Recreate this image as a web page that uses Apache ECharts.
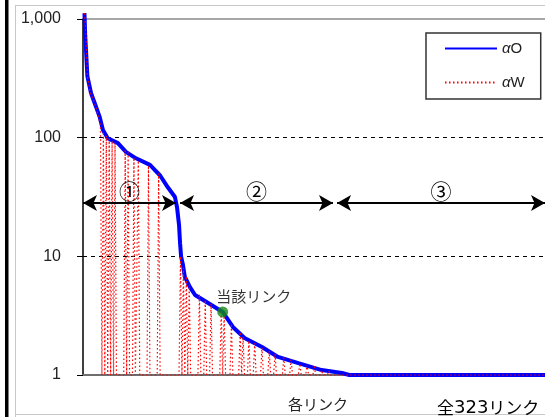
<!DOCTYPE html>
<html><head><meta charset="utf-8">
<script src="https://cdn.jsdelivr.net/npm/echarts@6/dist/echarts.min.js"></script>
<style>html,body{margin:0;padding:0;background:#fff}#c{width:545px;height:417px}</style>
</head><body><div id="c"></div>
<script>
// ---- data (link rank index -> value) ----
const oIdx = [1, 1.5, 3, 5.5, 8, 11.5, 13.7, 17, 24, 29.5, 36.4, 46, 53, 58.4, 63.2, 64.6, 66, 66.7, 67.4, 68.7, 70, 73.5, 77, 86, 96, 103, 111, 123, 134, 148, 164, 178, 183, 323];
const oVal = [1120, 740, 330, 238, 196, 149, 116, 99, 90, 76, 67, 59, 48, 38, 31.6, 26, 18.4, 12.9, 10, 8.45, 6.7, 5.5, 4.72, 4.04, 3.4, 2.54, 2.05, 1.72, 1.42, 1.26, 1.1, 1.04, 1, 1];

const wIdx = [1, 2, 3, 5, 8, 10, 12, 13, 14, 15, 16, 17, 18, 19, 20, 21, 22, 23,
  28, 29, 30, 31, 32, 34, 35, 36, 37, 38, 39, 44, 45, 46, 51, 52, 53,
  66, 67, 68, 69, 70, 71, 72, 73, 74, 79, 80, 81, 83, 84, 85, 87, 88, 89,
  94, 95, 96, 97, 98, 101, 102, 103, 107, 108, 109, 110, 111, 113, 114, 115, 117, 118, 119,
  122, 123, 124, 127, 128, 129, 131, 132, 133, 137, 138, 139, 142, 143, 144,
  148, 149, 150, 153, 154, 155, 158, 159, 160, 163, 164, 165, 168, 169, 170, 175, 323];
const wVal = [1120, 740, 330, 238, 196, 160, 128, 1, 112, 1, 104, 1, 98, 1, 94, 1, 90, 1,
  1, 78, 1, 75, 1, 1, 68, 1, 1, 64, 1, 1, 58, 1, 1, 50, 1,
  1, 10, 1, 8, 1, 6.8, 1, 5.8, 1, 1, 4.8, 1, 1, 4.3, 1, 1, 4.0, 1,
  1, 3.5, 1, 3.3, 1, 1, 2.7, 1, 1, 2.3, 1, 2.1, 1, 1, 1.95, 1, 1, 1.85, 1,
  1, 1.7, 1, 1, 1.6, 1, 1, 1.5, 1, 1, 1.4, 1, 1, 1.35, 1,
  1, 1.25, 1, 1, 1.22, 1, 1, 1.18, 1, 1, 1.1, 1, 1, 1.08, 1, 1, 1];

const targetLink = [96, 3.4];
const targetName = '当該リンク';
const yTicks = [1, 10, 100, 1000];
const yTickLabels = ['1', '10', '100', '1,000'];
// segment boundaries (link index) and arrow level
const segBounds = [[0, 63.9], [66.7, 171.8], [174.6, 317.5]];
const segLabels = ['①', '②', '③'];
const arrowLevel = 28.1;
const totalLinks = 323;

const jp = '"Noto Sans CJK JP", sans-serif';
const num = '"Liberation Sans", Arial, sans-serif';

const oData = oIdx.map((x, i) => [x, oVal[i]]);
const wData = wIdx.map((x, i) => [x, wVal[i]]);

const chart = echarts.init(document.getElementById('c'), null, {renderer: 'canvas'});
chart.setOption({
  animation: false,
  title: {text: '{a|全}{d|' + totalLinks + '}{a|リンク}', left: 432, top: 394,
    textStyle: {fontWeight: 'normal', rich: {
      a: {fontFamily: jp, fontSize: 17, fontWeight: 'normal', color: '#000'},
      d: {fontFamily: '"DejaVu Sans", sans-serif', fontSize: 18, fontWeight: 'normal', color: '#000'}}}},
  grid: {left: 83, top: 19, width: 470, height: 356, outerBoundsMode: 'none', containLabel: false},
  legend: {
    data: ['αO', 'αW'], orient: 'vertical', left: 426, top: 33,
    itemWidth: 52, itemHeight: 14, itemGap: 19,
    padding: [8, 16, 9, 18], borderColor: '#333', borderWidth: 1.5,
    itemStyle: {opacity: 0},
    formatter: n => '{a|α}{b|' + n.slice(1) + '}',
    textStyle: {rich: {
      a: {fontStyle: 'italic', fontSize: 15, fontFamily: num, color: '#222'},
      b: {fontSize: 15, fontFamily: num, color: '#222'}}}
  },
  xAxis: [{
    type: 'value', min: 0, max: totalLinks,
    axisLine: {lineStyle: {color: '#6e6e6e', width: 2}},
    axisTick: {show: false}, axisLabel: {show: false}, splitLine: {show: false},
    name: '各リンク', nameLocation: 'middle', nameGap: 22,
    nameTextStyle: {fontFamily: jp, fontSize: 15, color: '#222'}
  }, {
    type: 'value', min: 0, max: totalLinks, position: 'top',
    axisLine: {show: true, lineStyle: {color: '#a6a6a6', width: 2}},
    axisTick: {show: false}, axisLabel: {show: false}, splitLine: {show: false}
  }],
  yAxis: {
    type: 'log', logBase: 10, min: 1, max: 1000,
    axisLine: {show: true, lineStyle: {color: '#000', width: 1.5}},
    axisTick: {show: true, length: 6, lineStyle: {color: '#000'}},
    axisLabel: {margin: 22, fontFamily: num, fontSize: 16, color: '#222',
      formatter: v => { const k = yTicks.indexOf(Math.round(v)); return k >= 0 ? yTickLabels[k] : ''; }},
    splitLine: {show: true, lineStyle: {type: [4, 4], width: 1, color: ['transparent', '#000', '#000', 'transparent']}}
  },
  series: [{
    name: 'αO', type: 'line', data: oData, symbol: 'none', clip: false, z: 3,
    lineStyle: {color: '#0000ff', width: 4}, itemStyle: {color: '#0000ff'}
  }, {
    name: 'αW', type: 'line', data: wData, symbol: 'none', clip: false, z: 4,
    lineStyle: {color: '#ff0000', width: 1.2, type: [1.5, 2.5]}, itemStyle: {color: '#ff0000'}
  }, {
    name: 'target', type: 'scatter', data: [targetLink], symbolSize: 11, z: 6,
    itemStyle: {color: '#118a11'},
    label: {show: true, formatter: targetName, position: [-1, -18], align: 'left',
      fontFamily: jp, fontSize: 15, color: '#000'},
    markLine: {
      silent: true, symbol: ['arrow', 'arrow'], symbolSize: [12, 14],
      lineStyle: {color: '#000', width: 2, type: 'solid'},
      label: {show: true, position: 'middle', distance: 2, fontFamily: jp, fontSize: 21, color: '#000'},
      data: segBounds.map((b, k) => [
        {coord: [b[0], arrowLevel], label: {formatter: segLabels[k]}},
        {coord: [b[1], arrowLevel]}])
    }
  }],
  graphic: [
    {type: 'rect', shape: {x: 5, y: 0, width: 3.5, height: 417}, style: {fill: '#000'}},
    {type: 'line', shape: {x1: 15.5, y1: 5, x2: 15.5, y2: 417}, style: {stroke: '#c8c8c8', lineWidth: 1}},
    {type: 'line', shape: {x1: 15, y1: 5.5, x2: 545, y2: 5.5}, style: {stroke: '#c8c8c8', lineWidth: 1}},
    {type: 'line', shape: {x1: 15, y1: 414.5, x2: 545, y2: 414.5}, style: {stroke: '#c8c8c8', lineWidth: 1}}
  ]
});
</script></body></html>
